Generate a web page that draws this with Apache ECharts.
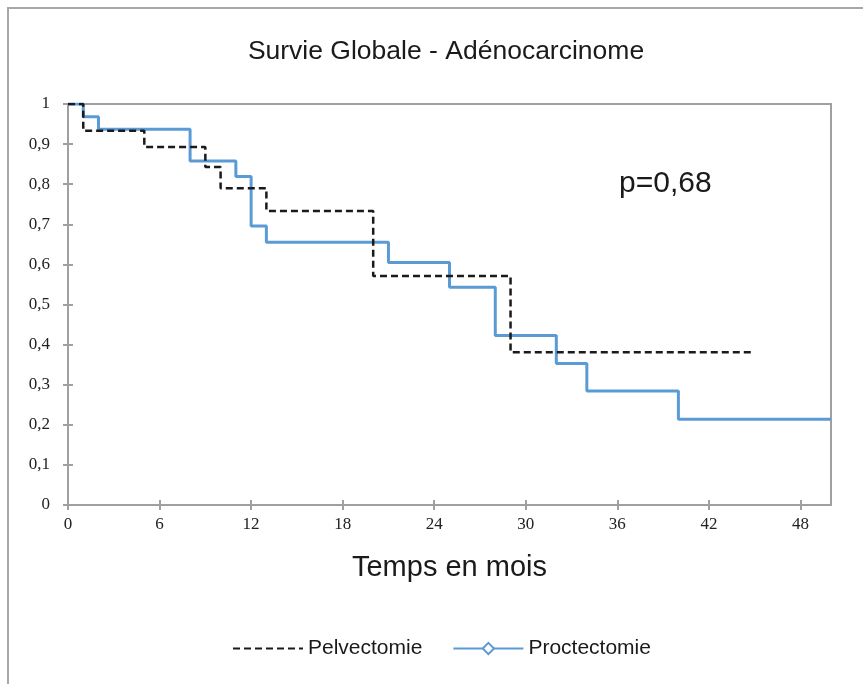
<!DOCTYPE html>
<html>
<head>
<meta charset="utf-8">
<script src="https://cdn.jsdelivr.net/npm/echarts@6/dist/echarts.min.js"></script>
<style>
  html, body { margin: 0; padding: 0; background: #fff; }
  #chart { width: 863px; height: 684px; }
</style>
</head>
<body>
<div id="chart"></div>
<script>
var chartDom = document.getElementById('chart');
var myChart = echarts.init(chartDom);
var option;

// Kaplan-Meier steps: [mois, survie]
var pelvectomie = [
  [0, 1], [1, 0.933], [5, 0.893], [9, 0.843], [10, 0.79],
  [13, 0.733], [20, 0.571], [29, 0.381], [45, 0.381]
];
var proctectomie = [
  [0, 1], [1, 0.968], [2, 0.937], [8, 0.858], [11, 0.819],
  [12, 0.696], [13, 0.655], [21, 0.605], [25, 0.543], [28, 0.423],
  [32, 0.353], [34, 0.284], [40, 0.214], [50, 0.214]
];
var seriesNames = ['Pelvectomie', 'Proctectomie'];
var pValue = 'p=0,68';

var sans = 'Liberation Sans, Arial, sans-serif';
var serif = 'Liberation Serif, Times New Roman, serif';
var axisGray = '#a0a0a0';

function yLabel(v) {
  return String(Math.round(v * 10) / 10).replace('.', ',');
}

option = {
  animation: false,
  backgroundColor: '#fff',
  title: {
    text: 'Survie Globale - Adénocarcinome',
    left: 441,
    top: 33,
    textAlign: 'center',
    textStyle: { fontFamily: sans, fontSize: 26.5, fontWeight: 'normal', color: '#1a1a1a' }
  },
  legend: {
    left: 227,
    top: 633,
    itemWidth: 70,
    itemHeight: 14,
    itemGap: 30,
    textStyle: { fontFamily: sans, fontSize: 21, color: '#1a1a1a' },
    data: [
      { name: seriesNames[0], itemStyle: { opacity: 0 } },
      { name: seriesNames[1] }
    ]
  },
  grid: {
    left: 68, right: 32, top: 104, bottom: 179,
    show: true, borderColor: axisGray, borderWidth: 2
  },
  xAxis: [{
    type: 'value', min: 0, max: 50, interval: 6,
    name: 'Temps en mois',
    nameLocation: 'middle',
    nameGap: 48,
    nameTextStyle: { fontFamily: sans, fontSize: 29, color: '#1a1a1a' },
    axisLine: { lineStyle: { color: axisGray, width: 2 } },
    axisTick: { length: 5, lineStyle: { color: axisGray, width: 2 } },
    axisLabel: { fontFamily: serif, fontSize: 17, color: '#222', margin: 11, showMaxLabel: false },
    splitLine: { show: false }
  }, {
    type: 'value', min: 0, max: 50, interval: 6, position: 'bottom',
    axisLine: { show: false },
    axisTick: { inside: true, length: 5, lineStyle: { color: axisGray, width: 2 } },
    axisLabel: { show: false },
    splitLine: { show: false }
  }],
  yAxis: [{
    type: 'value', min: 0, max: 1, interval: 0.1,
    axisLine: { show: true, lineStyle: { color: axisGray, width: 2 } },
    axisTick: { show: true, length: 5, lineStyle: { color: axisGray, width: 2 } },
    axisLabel: { fontFamily: serif, fontSize: 17, color: '#222', margin: 18, formatter: yLabel },
    splitLine: { show: false }
  }, {
    type: 'value', min: 0, max: 1, interval: 0.1, position: 'left',
    axisLine: { show: false },
    axisTick: { show: true, inside: true, length: 5, lineStyle: { color: axisGray, width: 2 } },
    axisLabel: { show: false },
    splitLine: { show: false }
  }],
  graphic: [{
    type: 'rect',
    shape: { x: 8, y: 8, width: 900, height: 700 },
    style: { fill: 'none', stroke: '#a8a8a8', lineWidth: 2 },
    silent: true
  }, {
    type: 'text',
    left: 619, top: 169,
    style: { text: pValue, fontFamily: sans, fontSize: 30, fill: '#1a1a1a' }
  }],
  series: [{
    name: seriesNames[0],
    type: 'line',
    step: 'end',
    data: pelvectomie,
    symbol: 'none',
    itemStyle: { color: '#1a1a1a' },
    lineStyle: { color: '#1a1a1a', width: 2.5, type: [7, 4] },
    z: 3
  }, {
    name: seriesNames[1],
    type: 'line',
    step: 'end',
    data: proctectomie,
    symbol: 'emptyDiamond',
    symbolSize: 9,
    showSymbol: false,
    itemStyle: { color: '#5b9bd5', borderWidth: 2 },
    lineStyle: { color: '#5b9bd5', width: 3 },
    z: 2
  }]
};

option && myChart.setOption(option);
</script>
</body>
</html>
